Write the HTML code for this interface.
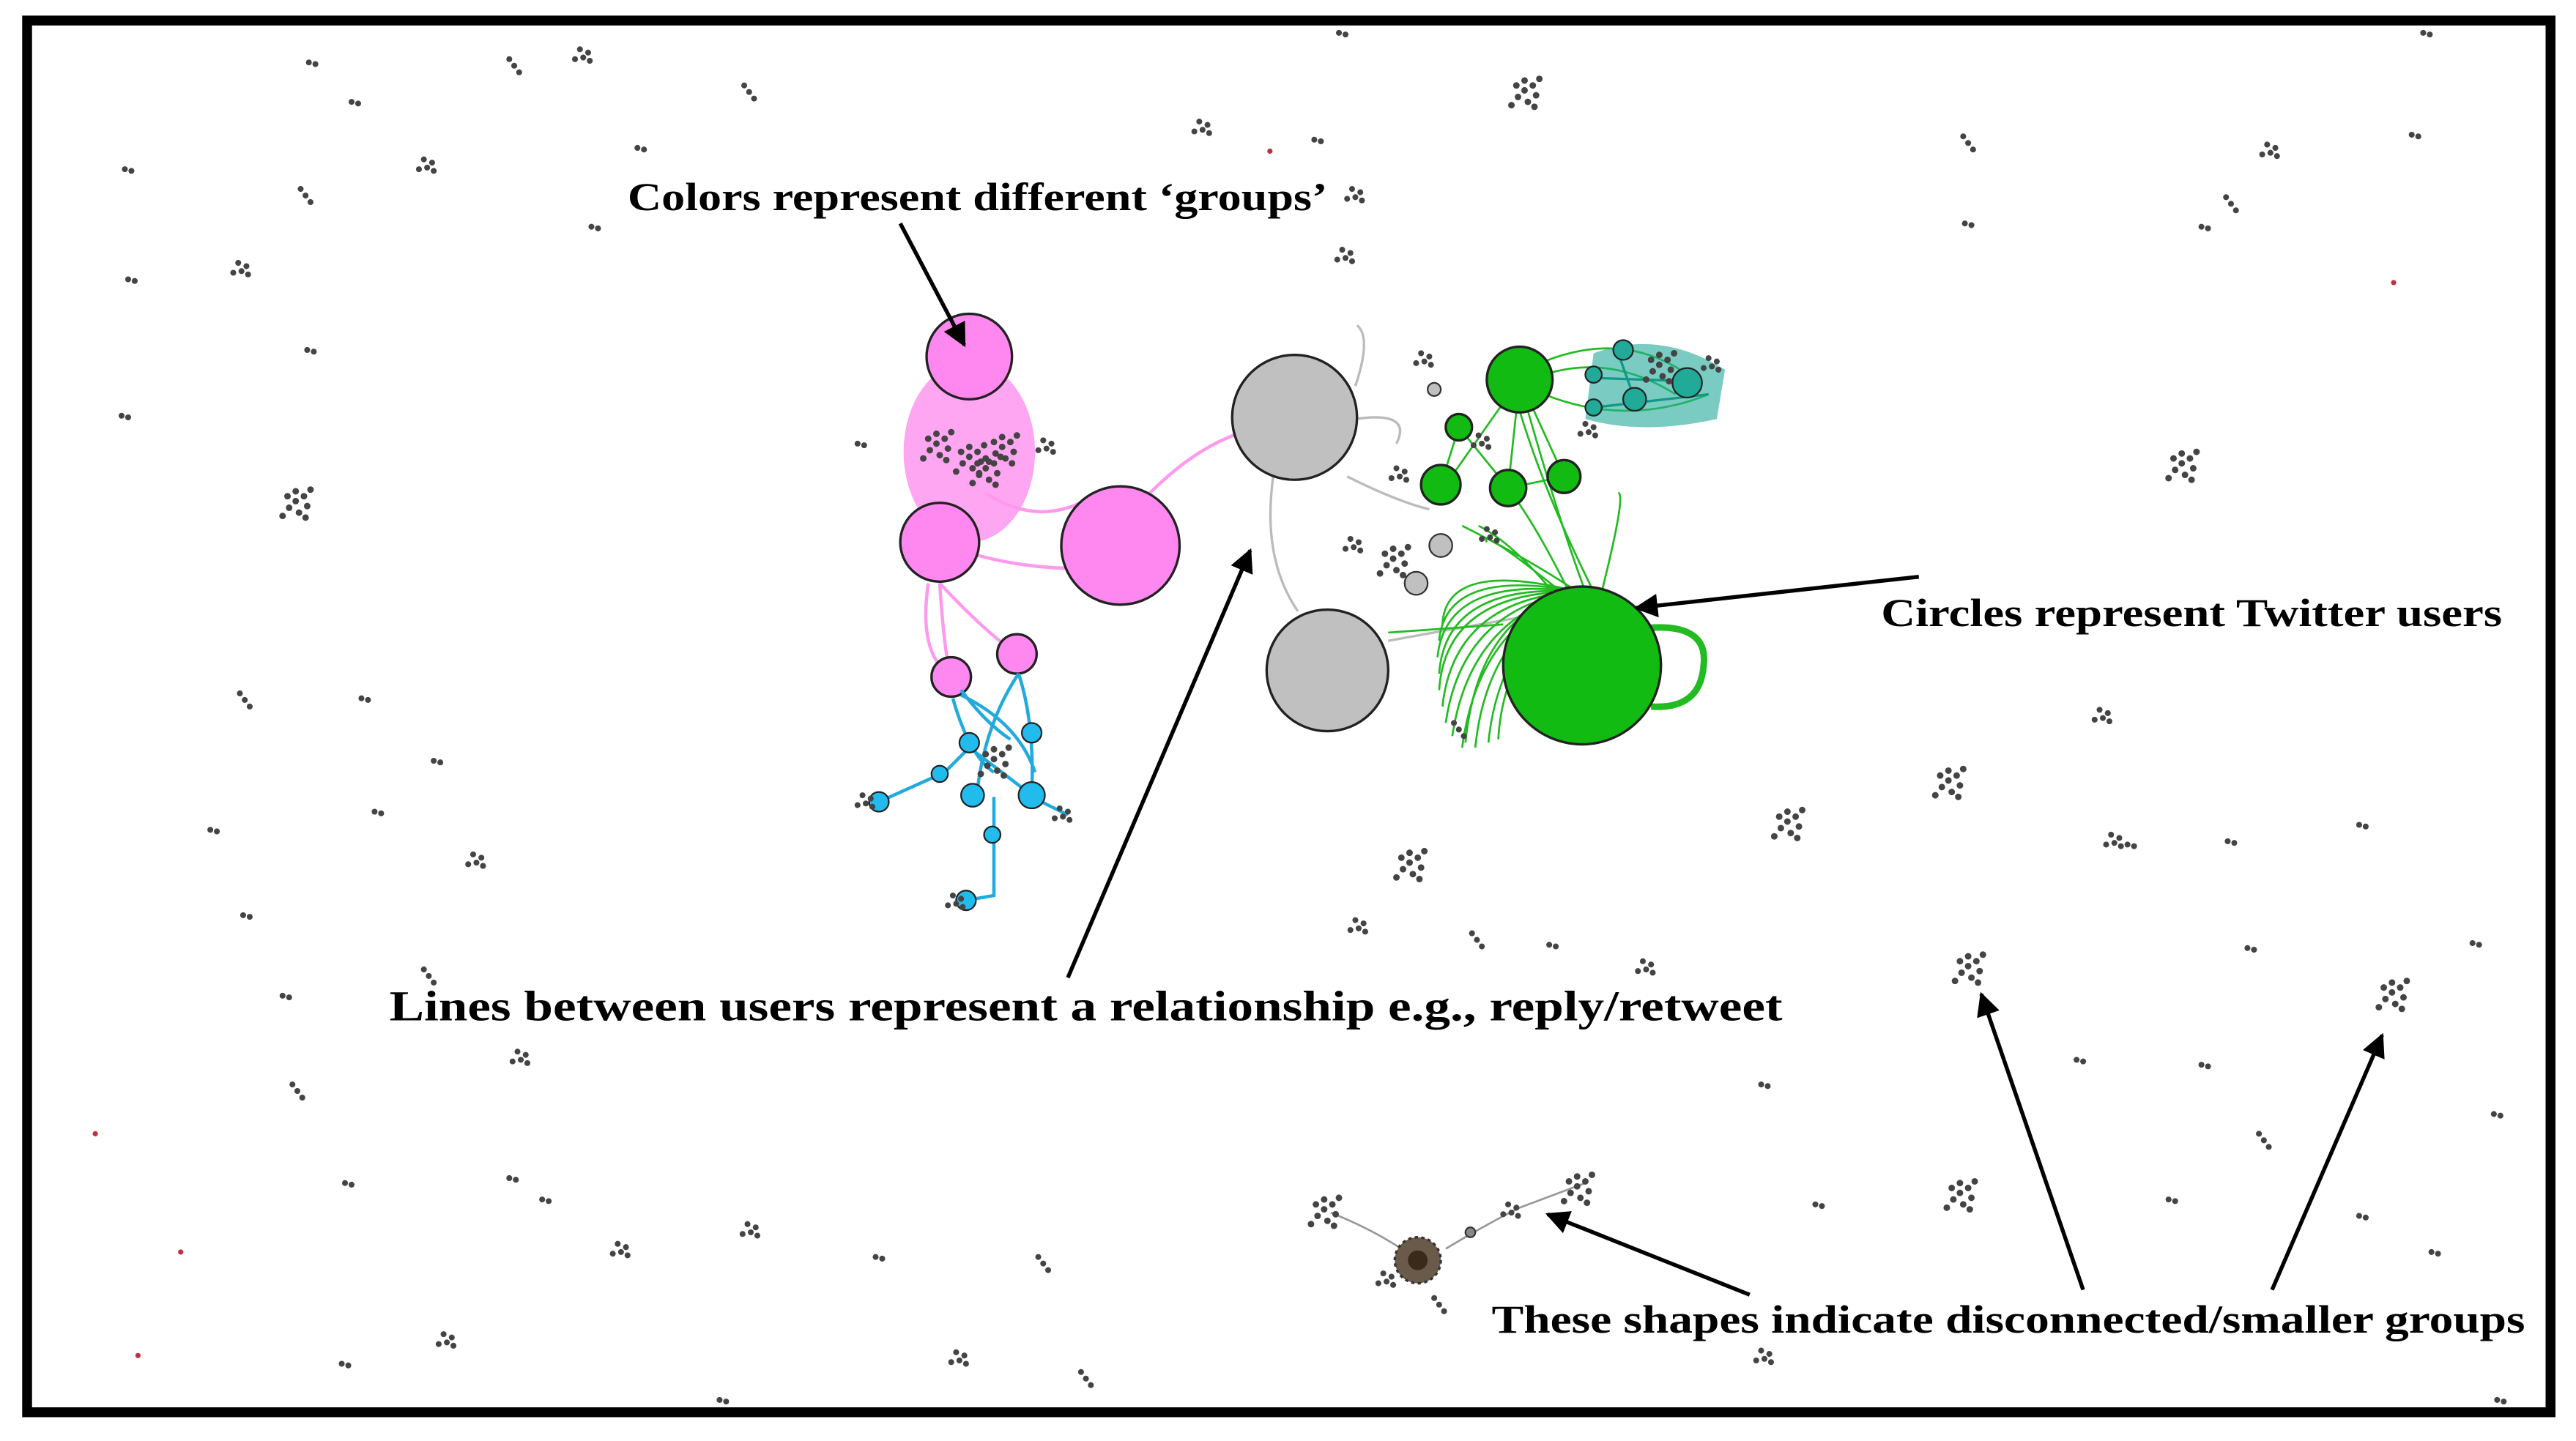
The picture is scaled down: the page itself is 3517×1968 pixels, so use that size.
<!DOCTYPE html>
<html><head><meta charset="utf-8"><style>
html,body{margin:0;padding:0;background:#fff;width:3517px;height:1968px;overflow:hidden}
svg{display:block}
text{font-family:"Liberation Serif",serif;font-weight:bold;fill:#000}
</style></head><body>
<svg width="3517" height="1968" viewBox="0 0 1568 877" preserveAspectRatio="none" xmlns="http://www.w3.org/2000/svg">
<defs>
<marker id="ah" viewBox="0 0 10 10" refX="9" refY="5" markerWidth="7" markerHeight="6" orient="auto"><path d="M0,0L10,5L0,10z" fill="#000"/></marker>
<g id="c1" fill="#444"><circle cx="0" cy="0" r="1.8"/><circle cx="4" cy="1" r="1.8"/></g>
<g id="c2" fill="#444"><circle cx="0" cy="0" r="1.8"/><circle cx="5" cy="2" r="1.8"/><circle cx="2" cy="5" r="1.8"/><circle cx="6" cy="7" r="1.8"/><circle cx="-3" cy="6" r="1.8"/></g>
<g id="c3" fill="#444"><circle cx="0" cy="0" r="1.8"/><circle cx="3" cy="4" r="1.8"/><circle cx="6" cy="8" r="1.8"/></g>
<g id="c4" fill="#444"><circle cx="0" cy="0" r="2"/><circle cx="5" cy="-3" r="2"/><circle cx="7" cy="3" r="2"/><circle cx="2" cy="7" r="2"/><circle cx="-4" cy="4" r="2"/><circle cx="-5" cy="-3" r="2"/><circle cx="0" cy="-6" r="2"/><circle cx="9" cy="-7" r="2"/><circle cx="-8" cy="9" r="2"/><circle cx="6" cy="10" r="2"/></g>
</defs>
<rect x="0" y="0" width="1568" height="877" fill="#fff"/>
<rect x="16.5" y="12.5" width="1536" height="847" fill="none" stroke="#000" stroke-width="6"/>

<g>
<use href="#c1" x="188" y="38"/><use href="#c3" x="310" y="36"/><use href="#c2" x="353" y="30"/><use href="#c3" x="453" y="52"/><use href="#c1" x="214" y="62"/>
<use href="#c1" x="76" y="103"/><use href="#c2" x="258" y="97"/><use href="#c3" x="183" y="115"/><use href="#c2" x="145" y="160"/><use href="#c1" x="78" y="170"/>
<use href="#c1" x="187" y="213"/><use href="#c1" x="74" y="253"/><use href="#c4" x="180" y="305"/><use href="#c1" x="388" y="90"/><use href="#c1" x="360" y="138"/>
<use href="#c2" x="730" y="74"/><use href="#c1" x="815" y="20"/><use href="#c4" x="928" y="55"/><use href="#c1" x="800" y="85"/><use href="#c2" x="823" y="115"/><use href="#c2" x="817" y="152"/>
<use href="#c3" x="1195" y="83"/><use href="#c2" x="1380" y="88"/><use href="#c1" x="1468" y="82"/><use href="#c3" x="1355" y="120"/><use href="#c1" x="1340" y="138"/><use href="#c1" x="1196" y="136"/><use href="#c1" x="1475" y="20"/>
<use href="#c4" x="1328" y="282"/><use href="#c2" x="1278" y="432"/><use href="#c4" x="1186" y="475"/><use href="#c4" x="1088" y="500"/><use href="#c2" x="1285" y="508"/><use href="#c1" x="1295" y="514"/><use href="#c1" x="1356" y="512"/><use href="#c1" x="1436" y="502"/>
<use href="#c3" x="146" y="422"/><use href="#c1" x="220" y="425"/><use href="#c1" x="264" y="463"/><use href="#c1" x="228" y="494"/><use href="#c1" x="128" y="505"/><use href="#c2" x="288" y="520"/><use href="#c1" x="148" y="557"/>
<use href="#c3" x="258" y="590"/><use href="#c1" x="172" y="606"/><use href="#c2" x="315" y="640"/><use href="#c3" x="178" y="660"/><use href="#c1" x="210" y="720"/><use href="#c1" x="310" y="717"/><use href="#c1" x="330" y="730"/>
<use href="#c2" x="376" y="757"/><use href="#c2" x="455" y="745"/><use href="#c1" x="533" y="765"/><use href="#c3" x="632" y="765"/><use href="#c2" x="270" y="812"/><use href="#c1" x="208" y="830"/><use href="#c2" x="582" y="823"/><use href="#c3" x="658" y="835"/>
<use href="#c4" x="858" y="525"/><use href="#c2" x="825" y="560"/><use href="#c3" x="896" y="568"/><use href="#c1" x="943" y="575"/><use href="#c2" x="1000" y="585"/><use href="#c4" x="1198" y="588"/><use href="#c1" x="1368" y="577"/><use href="#c1" x="1505" y="574"/><use href="#c4" x="1456" y="604"/>
<use href="#c1" x="1264" y="645"/><use href="#c1" x="1340" y="648"/><use href="#c1" x="1072" y="660"/><use href="#c3" x="1375" y="690"/><use href="#c1" x="1518" y="678"/><use href="#c4" x="1193" y="726"/><use href="#c1" x="1320" y="730"/><use href="#c1" x="1436" y="740"/><use href="#c1" x="1480" y="762"/><use href="#c1" x="1105" y="733"/>
<use href="#c2" x="1072" y="822"/><use href="#c1" x="438" y="852"/><use href="#c1" x="1520" y="852"/>
</g>
<g fill="#c03040"><circle cx="773" cy="92" r="1.6"/><circle cx="1457" cy="172" r="1.6"/><circle cx="58" cy="690" r="1.6"/><circle cx="110" cy="762" r="1.6"/><circle cx="84" cy="825" r="1.6"/></g>

<g>
<path d="M810,738 Q840,750 860,765 M880,760 Q905,745 925,735 L965,720" stroke="#999" stroke-width="1.2" fill="none"/>
<use href="#c4" x="806" y="736"/><use href="#c4" x="960" y="722"/><use href="#c2" x="918" y="733"/>
<circle cx="863" cy="767" r="14" fill="#6a5a4a" stroke="#333" stroke-width="1.5" stroke-dasharray="2 2"/>
<circle cx="863" cy="767" r="6" fill="#3a2a1a"/>
<use href="#c3" x="873" y="790"/><use href="#c2" x="842" y="775"/><circle cx="895" cy="750" r="3" fill="#888" stroke="#333"/>
</g>

<g>
<ellipse cx="590" cy="275" rx="40" ry="55" fill="#ff88ee" opacity="0.75"/>
<path d="M572,330 Q620,350 682,345 M600,300 Q630,320 660,305 M572,355 Q575,400 579,412 M572,355 Q600,385 619,398 M565,355 Q560,390 572,405 M700,300 Q730,270 760,262" stroke="#ff99ee" stroke-width="2" fill="none"/>
<circle cx="590" cy="217" r="26" fill="#ff88f0" stroke="#222" stroke-width="1.5"/>
<circle cx="572" cy="330" r="24" fill="#ff88f0" stroke="#222" stroke-width="1.5"/>
<circle cx="682" cy="332" r="36" fill="#ff88f0" stroke="#222" stroke-width="1.5"/>
<circle cx="579" cy="412" r="12" fill="#ff88f0" stroke="#222" stroke-width="1.5"/>
<circle cx="619" cy="398" r="12" fill="#ff88f0" stroke="#222" stroke-width="1.5"/>
<use href="#c4" x="570" y="270"/><use href="#c4" x="590" y="278"/><use href="#c4" x="610" y="272"/><use href="#c4" x="600" y="285"/>
<use href="#c1" x="522" y="270"/><use href="#c2" x="635" y="268"/>
</g>

<g>
<path d="M585,420 Q600,440 615,450 M620,410 Q630,440 628,485 M590,455 L575,470 L535,488 M605,485 L605,545 L588,548 M628,485 L650,496 M580,425 Q590,460 605,470 M585,423 Q620,440 630,470 M620,410 Q600,440 595,480 M590,455 Q610,470 628,484" stroke="#22aadd" stroke-width="2" fill="none"/>
<circle cx="590" cy="452" r="6" fill="#22bbee" stroke="#222"/><circle cx="628" cy="446" r="6" fill="#22bbee" stroke="#222"/>
<circle cx="572" cy="471" r="5" fill="#22bbee" stroke="#222"/><circle cx="592" cy="484" r="7" fill="#22bbee" stroke="#222"/>
<circle cx="628" cy="484" r="8" fill="#22bbee" stroke="#222"/><circle cx="535" cy="488" r="6" fill="#22bbee" stroke="#222"/>
<circle cx="604" cy="508" r="5" fill="#22bbee" stroke="#222"/><circle cx="588" cy="548" r="6" fill="#22bbee" stroke="#222"/>
<use href="#c4" x="605" y="462"/><use href="#c2" x="525" y="484"/><use href="#c2" x="580" y="545"/><use href="#c2" x="645" y="492"/>
</g>

<g>
<path d="M775,290 Q768,340 790,372 M825,235 Q835,205 826,198 M825,255 Q860,250 850,270 M820,290 Q850,305 870,310 M845,390 Q900,380 930,375" stroke="#bbb" stroke-width="1.5" fill="none"/>
<circle cx="788" cy="254" r="38" fill="#c0c0c0" stroke="#222" stroke-width="1.5"/>
<circle cx="808" cy="408" r="37" fill="#c0c0c0" stroke="#222" stroke-width="1.5"/>
<circle cx="877" cy="332" r="7" fill="#c0c0c0" stroke="#333"/><circle cx="862" cy="355" r="7" fill="#c0c0c0" stroke="#333"/><circle cx="873" cy="237" r="4" fill="#c0c0c0" stroke="#333"/>
<use href="#c2" x="822" y="328"/><use href="#c4" x="848" y="340"/><use href="#c2" x="865" y="215"/>
</g>

<g>
<g stroke="#22bb22" stroke-width="1.2" fill="none">
<path d="M960,360 Q900,380 890,455"/><path d="M960,360 Q905,385 898,455"/><path d="M960,360 Q912,390 906,452"/><path d="M960,360 Q890,370 880,440"/><path d="M960,360 Q880,360 876,420"/><path d="M960,360 Q880,350 875,400"/><path d="M960,360 Q880,340 878,380"/><path d="M960,360 Q895,375 884,448"/><path d="M960,360 Q900,372 892,452"/><path d="M960,360 Q885,365 878,430"/><path d="M960,360 Q880,355 876,410"/><path d="M960,360 Q880,345 876,390"/><path d="M960,360 Q915,395 912,450"/>
<path d="M950,360 Q900,320 905,330"/><path d="M970,360 Q940,300 925,250"/><path d="M975,360 Q990,300 985,300"/><path d="M960,360 Q930,340 890,320"/><path d="M955,360 Q935,320 920,300"/><path d="M965,360 Q950,320 930,250"/><path d="M945,360 Q920,330 900,320"/>
<path d="M880,295 L925,231 L918,297 L952,290 L925,231 M877,295 L888,260 L918,297 M845,385 L915,380"/>
<path d="M940,220 Q990,200 1030,230 M940,240 Q990,260 1040,240 M940,228 Q980,215 1020,240"/>
</g>
<path d="M1005,382 Q1040,380 1037,405 Q1035,432 1005,430" stroke="#22bb22" stroke-width="4" fill="none"/>
<circle cx="963" cy="405" r="48" fill="#11bb11" stroke="#222" stroke-width="1.5"/>
<circle cx="925" cy="231" r="20" fill="#11bb11" stroke="#222" stroke-width="1.5"/>
<circle cx="877" cy="295" r="12" fill="#11bb11" stroke="#222" stroke-width="1.5"/>
<circle cx="918" cy="297" r="11" fill="#11bb11" stroke="#222" stroke-width="1.5"/>
<circle cx="952" cy="290" r="10" fill="#11bb11" stroke="#222" stroke-width="1.5"/>
<circle cx="888" cy="260" r="8" fill="#11bb11" stroke="#222" stroke-width="1.5"/>
<use href="#c2" x="900" y="265"/><use href="#c2" x="905" y="322"/><use href="#c2" x="850" y="285"/><use href="#c3" x="885" y="440"/>
</g>

<g>
<path d="M970,215 Q1010,200 1050,225 L1045,255 Q1000,265 965,255 Z" fill="#22aa99" opacity="0.6"/>
<g stroke="#119988" stroke-width="1.5" fill="none"><path d="M970,230 L1028,232 M985,215 L995,243 M970,248 L1040,240"/></g>
<circle cx="988" cy="213" r="6" fill="#22aa99" stroke="#222"/><circle cx="1027" cy="233" r="9" fill="#22aa99" stroke="#222"/>
<circle cx="995" cy="243" r="7" fill="#22aa99" stroke="#222"/><circle cx="970" cy="228" r="5" fill="#22aa99" stroke="#222"/><circle cx="970" cy="248" r="5" fill="#22aa99" stroke="#222"/>
<use href="#c4" x="1010" y="222"/><use href="#c2" x="1040" y="218"/><use href="#c2" x="965" y="258"/>
</g>

<g stroke="#000" stroke-width="2.4" fill="none" marker-end="url(#ah)">
<line x1="548" y1="136" x2="587" y2="210"/>
<line x1="1168" y1="351" x2="996" y2="370"/>
<line x1="650" y1="595" x2="761" y2="335"/>
<line x1="1065" y1="788" x2="942" y2="739"/>
<line x1="1268" y1="785" x2="1206" y2="605"/>
<line x1="1383" y1="785" x2="1450" y2="630"/>
</g>

<text x="382" y="128" font-size="24" textLength="426" lengthAdjust="spacingAndGlyphs">Colors represent different ‘groups’</text>
<text x="1145" y="381" font-size="24" textLength="378" lengthAdjust="spacingAndGlyphs">Circles represent Twitter users</text>
<text x="237" y="621" font-size="26" textLength="848" lengthAdjust="spacingAndGlyphs">Lines between users represent a relationship e.g., reply/retweet</text>
<text x="908" y="811" font-size="24" textLength="629" lengthAdjust="spacingAndGlyphs">These shapes indicate disconnected/smaller groups</text>
</svg>
</body></html>
